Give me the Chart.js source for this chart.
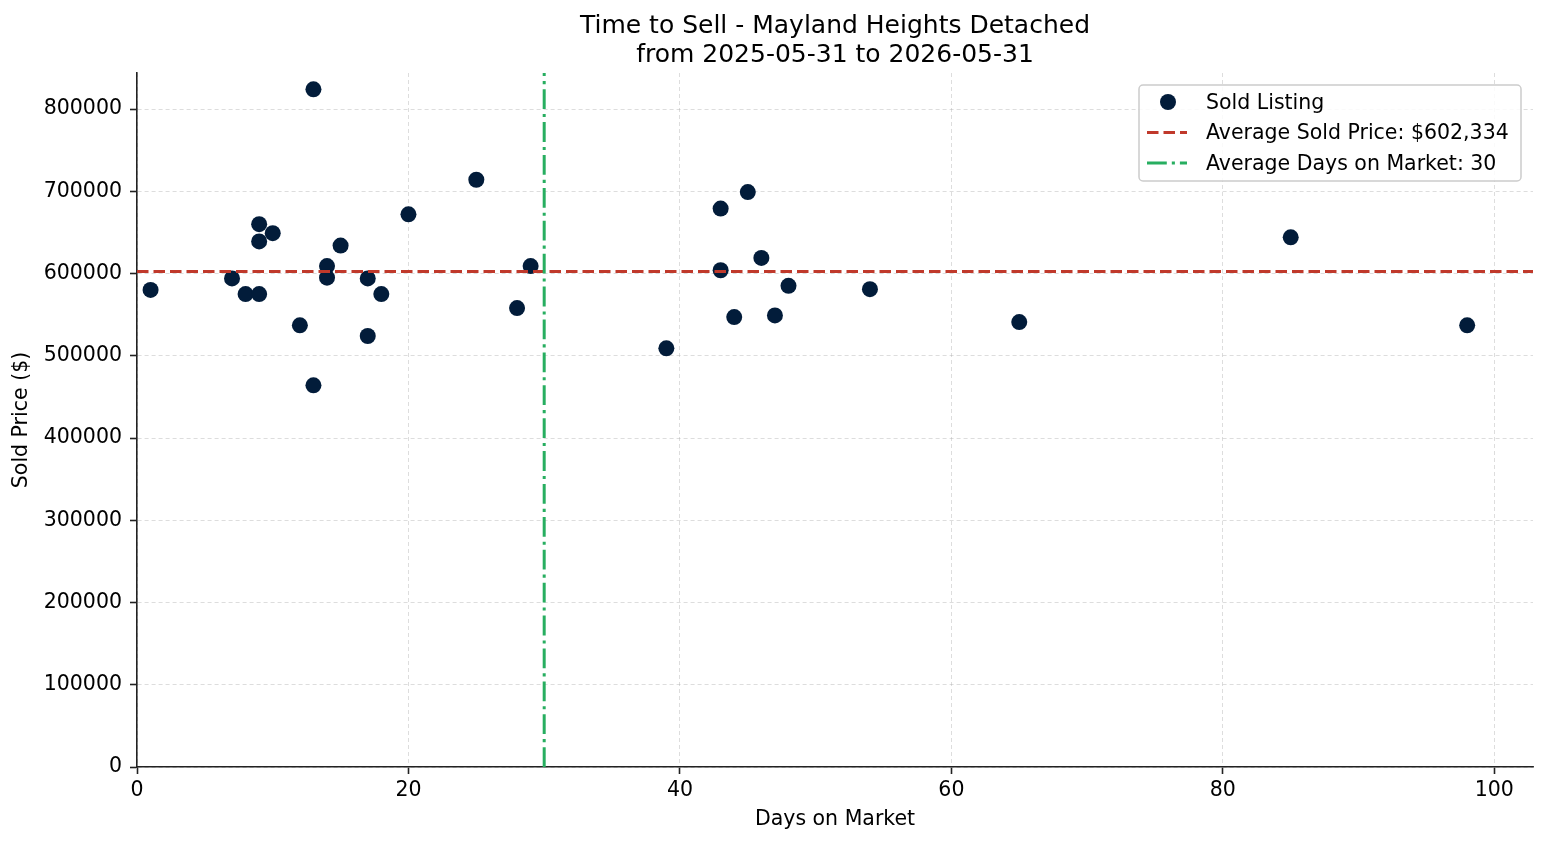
<!DOCTYPE html>
<html>
<head>
<meta charset="utf-8">
<title>Time to Sell - Mayland Heights Detached</title>
<script src="https://cdn.jsdelivr.net/npm/chart.js@4.4.1/dist/chart.umd.min.js"></script>
<style>
  html, body { margin: 0; padding: 0; background: #fff; }
  #wrap { width: 1547px; height: 845px; }
</style>
</head>
<body>
<div id="wrap"><canvas id="sell-chart" width="1547" height="845"></canvas></div>
<script>
// sold listings (days on market, sold price)
const days = [1, 7, 8, 9, 9, 9, 10, 12, 13, 13, 14, 14, 15, 17, 17, 18, 20, 25, 28, 29,
              39, 43, 43, 44, 45, 46, 47, 48, 54, 65, 85, 98];
const prices = [580000, 594000, 575000, 660000, 639000, 575000, 649000, 537000, 824000, 464000,
                609000, 595000, 634000, 594000, 524000, 575000, 672000, 714000, 558000, 609000,
                509000, 679000, 604000, 547000, 699000, 619000, 549000, 585000, 581000, 541000,
                644000, 537000];

const avgPrice = 602334;
const avgDays = 30;
const xRange = [0, 102.85];
const yRange = [0, 843800];
const xTicks = [0, 20, 40, 60, 80, 100];
const yTicks = [0, 100000, 200000, 300000, 400000, 500000, 600000, 700000, 800000];
const titleLines = ['Time to Sell - Mayland Heights Detached', 'from 2025-05-31 to 2026-05-31'];

const FONT = '"DejaVu Sans", sans-serif';

document.addEventListener('DOMContentLoaded', () => {
    const canvas = document.getElementById('sell-chart');

    const points = days.map((d, i) => ({ x: d, y: prices[i] }));

    // title centred over the plot area, legend boxed inside it (matplotlib style)
    const decorations = {
        id: 'decorations',
        afterDraw(chart) {
            const ctx = chart.ctx;
            const area = chart.chartArea;
            ctx.save();

            ctx.font = '25px ' + FONT;
            ctx.fillStyle = '#000';
            ctx.textAlign = 'center';
            ctx.textBaseline = 'middle';
            const cx = (area.left + area.right) / 2;
            titleLines.forEach((t, i) => ctx.fillText(t, cx, 26.5 + i * 28.5));

            const x0 = area.right - 394, y0 = area.top + 12, w = 382, h = 96;
            ctx.textAlign = 'left';
            ctx.fillStyle = 'rgba(255,255,255,0.85)';
            ctx.strokeStyle = '#cccccc';
            ctx.lineWidth = 1.5;
            ctx.beginPath();
            ctx.roundRect(x0, y0, w, h, 4);
            ctx.fill();
            ctx.stroke();

            ctx.font = '20.5px ' + FONT;
            chart.data.datasets.forEach((ds, i) => {
                const cy = y0 + 17 + i * 30.5;
                if (ds.showLine) {
                    ctx.strokeStyle = ds.borderColor;
                    ctx.lineWidth = ds.borderWidth;
                    ctx.setLineDash(ds.borderDash);
                    ctx.beginPath();
                    ctx.moveTo(x0 + 8, cy);
                    ctx.lineTo(x0 + 48, cy);
                    ctx.stroke();
                    ctx.setLineDash([]);
                } else {
                    ctx.fillStyle = ds.backgroundColor;
                    ctx.beginPath();
                    ctx.arc(x0 + 29, cy, 8, 0, Math.PI * 2);
                    ctx.fill();
                }
                ctx.fillStyle = '#000';
                ctx.fillText(ds.label, x0 + 67, cy + 1.5);
            });
            ctx.restore();
        }
    };

    const config = {
        type: 'scatter',
        data: {
            datasets: [{
                label: 'Sold Listing',
                data: points,
                backgroundColor: '#021c3a',
                borderColor: '#021c3a',
                borderWidth: 0,
                pointRadius: 8,
                pointHoverRadius: 8,
                order: 3
            }, {
                label: 'Average Sold Price: $602,334',
                data: [{ x: xRange[0], y: avgPrice }, { x: xRange[1], y: avgPrice }],
                showLine: true,
                borderColor: '#c0392b',
                borderWidth: 3,
                borderDash: [11.5, 5],
                pointRadius: 0,
                order: 2
            }, {
                label: 'Average Days on Market: 30',
                data: [{ x: avgDays, y: yRange[0] }, { x: avgDays, y: yRange[1] }],
                showLine: true,
                borderColor: '#27ae60',
                borderWidth: 3,
                borderDash: [19.8, 5, 3.1, 5],
                pointRadius: 0,
                order: 1
            }]
        },
        options: {
            responsive: false,
            animation: false,
            layout: { padding: { left: 0, right: 14, top: 73, bottom: 0 } },
            plugins: {
                legend: { display: false },
                tooltip: { enabled: false },
                title: { display: false }
            },
            scales: {
                x: {
                    type: 'linear',
                    min: xRange[0],
                    max: xRange[1],
                    afterFit: (s) => { s.height = 78; },
                    afterBuildTicks: (s) => { s.ticks = xTicks.map(v => ({ value: v })); },
                    ticks: {
                        color: '#000',
                        padding: 4,
                        font: { family: FONT, size: 20.5 },
                        maxRotation: 0
                    },
                    grid: {
                        color: 'rgba(170,170,170,0.5)',
                        lineWidth: 0.8,
                        tickLength: 7,
                        tickColor: '#222',
                        tickWidth: 1.6
                    },
                    border: { display: true, color: '#222', width: 1.6, dash: [4, 3] },
                    title: {
                        display: true,
                        text: 'Days on Market',
                        color: '#000',
                        font: { family: FONT, size: 20.5 },
                        padding: { top: 0, bottom: 13 }
                    }
                },
                y: {
                    type: 'linear',
                    min: yRange[0],
                    max: yRange[1],
                    afterFit: (s) => { s.width = 137; },
                    afterBuildTicks: (s) => { s.ticks = yTicks.map(v => ({ value: v })); },
                    ticks: {
                        color: '#000',
                        padding: 8,
                        font: { family: FONT, size: 20.5 },
                        callback: (v) => String(v)
                    },
                    grid: {
                        color: 'rgba(170,170,170,0.5)',
                        lineWidth: 0.8,
                        tickLength: 7,
                        tickColor: '#222',
                        tickWidth: 1.6
                    },
                    border: { display: true, color: '#222', width: 1.6, dash: [4, 3] },
                    title: {
                        display: true,
                        text: 'Sold Price ($)',
                        color: '#000',
                        font: { family: FONT, size: 20.5 },
                        padding: { top: 9, bottom: 0 }
                    }
                }
            }
        },
        plugins: [decorations]
    };

    new Chart(canvas, config);
});
</script>
</body>
</html>
